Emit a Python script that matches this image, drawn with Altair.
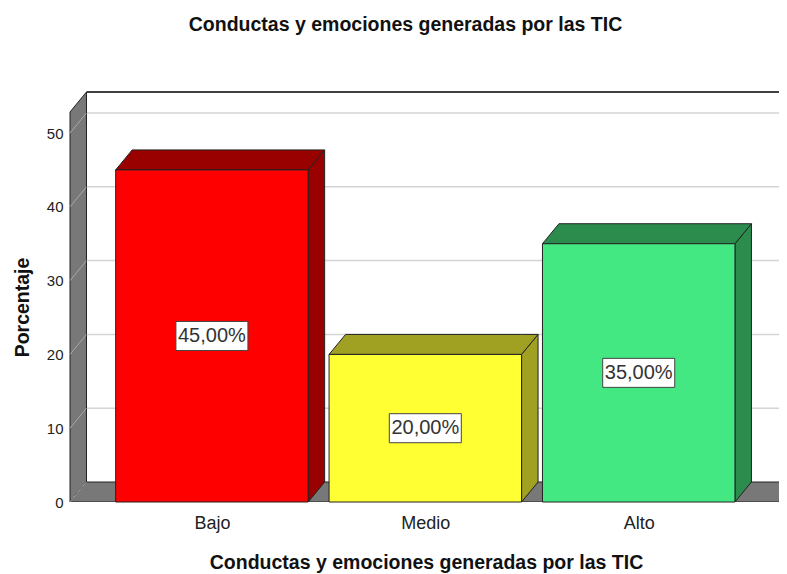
import altair as alt
import pandas as pd

categories = ["Bajo", "Medio", "Alto"]
percentages = [45, 20, 35]
value_labels = ["45,00%", "20,00%", "35,00%"]
front_colors = ["#ff0000", "#ffff33", "#44e882"]
shade_colors = ["#990000", "#a0a022", "#2b8c4d"]
y_ticks = [0, 10, 20, 30, 40, 50]

TITLE = "Conductas y emociones generadas por las TIC"
Y_TITLE = "Porcentaje"

# geometry of the 3-D frame, in data units
XMIN, XMAX = -0.665, 2.6574
YMAX = 55.56
DX, DY = 0.0773, 2.71
BAR_HALF = 0.451
FLOOR_END = 2.67

FONT = "Liberation Sans"
WALL = "#787878"
GRID = "#d4d4d4"
EDGE = "#222222"

xscale = alt.Scale(domain=[XMIN, XMAX], nice=False, zero=False)
yscale = alt.Scale(domain=[0, YMAX], nice=False, zero=False)
label_expr = "[" + ",".join(f"'{c}'" for c in categories) + "][datum.value]"

xaxis = alt.Axis(values=list(range(len(categories))), labelExpr=label_expr, title=TITLE,
                 domain=False, ticks=False, grid=False, labelFont=FONT, labelFontSize=18,
                 labelColor="#222", labelPadding=12, titleFont=FONT, titleFontSize=19.5,
                 titleFontWeight="bold", titleColor="#111", titleBaseline="alphabetic", titleY=66,
                 titleX=356)
yaxis = alt.Axis(values=y_ticks, title=Y_TITLE, domain=False, ticks=False, grid=False,
                 labelFont=FONT, labelFontSize=15, labelColor="#222", labelPadding=7,
                 titleFont=FONT, titleFontSize=19.5, titleFontWeight="bold", titleColor="#111",
                 titleX=-48, titleY=215, titleAngle=270, titleAlign="center", titleBaseline="middle")


def X(f):
    return alt.X(f, type="quantitative", scale=xscale, axis=xaxis)


def Y(f):
    return alt.Y(f, type="quantitative", scale=yscale, axis=yaxis)


# back wall gridlines
grid_df = pd.DataFrame({"x": [XMIN + DX] * (len(y_ticks) - 1), "x2": [XMAX] * (len(y_ticks) - 1),
                        "y": [t + DY for t in y_ticks[1:]]})
grid = alt.Chart(grid_df).mark_rule(color=GRID, strokeWidth=1.5).encode(x=X("x"), x2="x2", y=Y("y"))

top_df = pd.DataFrame({"x": [XMIN + DX], "x2": [XMAX], "y": [YMAX]})
top_line = alt.Chart(top_df).mark_rule(color="#000", strokeWidth=1.5).encode(x=X("x"), x2="x2", y=Y("y"))

wall_df = pd.DataFrame({"x": [XMIN, XMIN + DX], "y": [0, DY], "y2": [YMAX - DY, YMAX]})
wall = alt.Chart(wall_df).mark_area(color=WALL, opacity=1, stroke=EDGE, strokeWidth=1).encode(
    x=X("x"), y=Y("y"), y2="y2")

floor_df = pd.DataFrame({"x": [XMIN, XMIN + DX, FLOOR_END, FLOOR_END + DX],
                         "y": [0, 0, 0, DY], "y2": [0, DY, DY, DY]})
floor = alt.Chart(floor_df).mark_area(color=WALL, opacity=1, stroke=EDGE, strokeWidth=1, clip=True).encode(
    x=X("x"), y=Y("y"), y2="y2")

diag_rows = []
for t in y_ticks:
    diag_rows.append({"t": t, "x": XMIN, "y": t})
    diag_rows.append({"t": t, "x": XMIN + DX, "y": t + DY})
diag = alt.Chart(pd.DataFrame(diag_rows)).mark_line(color="#a8a8a8", strokeWidth=1).encode(
    x=X("x"), y=Y("y"), detail="t:N")

front_rows, top_rows, side_rows, lab_rows = [], [], [], []
for i, (c, v, fc, sc, lab) in enumerate(zip(categories, percentages, front_colors, shade_colors, value_labels)):
    L, R = i - BAR_HALF, i + BAR_HALF
    front_rows.append({"cat": c, "x": L, "x2": R, "y": 0, "y2": v, "fill": fc})
    for xx, y0, y1 in [(L, v, v), (L + DX, v, v + DY), (R, v, v + DY), (R + DX, v + DY, v + DY)]:
        top_rows.append({"cat": c, "x": xx, "y": y0, "y2": y1, "fill": sc})
    for xx, y0, y1 in [(R, 0, v), (R + DX, DY, v + DY)]:
        side_rows.append({"cat": c, "x": xx, "y": y0, "y2": y1, "fill": sc})
    lab_rows.append({"cat": c, "x": i, "y": v / 2, "label": lab})

sides = alt.Chart(pd.DataFrame(side_rows)).mark_area(opacity=1, stroke=EDGE, strokeWidth=1).encode(
    x=X("x"), y=Y("y"), y2="y2", detail="cat:N", fill=alt.Fill("fill:N", scale=None))
tops = alt.Chart(pd.DataFrame(top_rows)).mark_area(opacity=1, stroke=EDGE, strokeWidth=1).encode(
    x=X("x"), y=Y("y"), y2="y2", detail="cat:N", fill=alt.Fill("fill:N", scale=None))
fronts = alt.Chart(pd.DataFrame(front_rows)).mark_rect(stroke=EDGE, strokeWidth=1).encode(
    x=X("x"), x2="x2", y=Y("y"), y2="y2", fill=alt.Fill("fill:N", scale=None))

lab_df = pd.DataFrame(lab_rows)
BOX = "M-1,-0.403L1,-0.403L1,0.403L-1,0.403Z"
boxes = alt.Chart(lab_df).mark_point(shape=BOX, size=72 * 72, filled=True, fill="white",
                                     stroke="#444", strokeWidth=1, opacity=1).encode(x=X("x"), y=Y("y"))
texts = alt.Chart(lab_df).mark_text(font=FONT, fontSize=20, color="#333", baseline="middle").encode(
    x=X("x"), y=Y("y"), text="label:N")

chart = alt.layer(grid, top_line, wall, floor, diag, sides, tops, fronts, boxes, texts).properties(
    width=709, height=410,
    title=alt.TitleParams(TITLE, font=FONT, fontSize=19.5, fontWeight="bold", color="#111",
                          anchor="middle", frame="group", dx=-19, offset=40, baseline="alphabetic"),
    autosize=alt.AutoSizeParams(type="none"),
    padding={"left": 62, "top": 84, "right": 0, "bottom": 71},
).configure_view(strokeWidth=0)

chart.save("out.html", embed_options={"renderer": "svg", "actions": False})
